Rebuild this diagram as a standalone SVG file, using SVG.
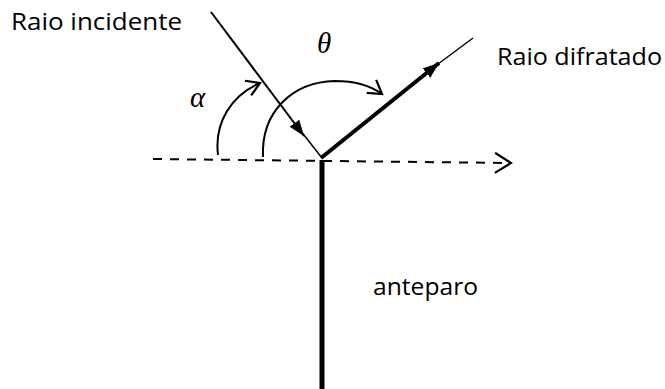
<svg xmlns="http://www.w3.org/2000/svg" width="665" height="389" viewBox="0 0 665 389">
<defs>
<style>
.lbl{font-family:"Open Sans","Liberation Sans",sans-serif;font-size:24.5px;fill:#000}
.math{font-family:"Liberation Serif","DejaVu Serif",serif;font-style:italic;font-size:29px;fill:#000}
.ln{stroke:#000;fill:none;stroke-linecap:butt}
</style>
<marker id="fill" viewBox="0 0 16 12" refX="16" refY="6" markerWidth="16" markerHeight="12" markerUnits="userSpaceOnUse" orient="auto">
<path d="M0,0 L16,6 L0,12 Z" fill="#000"/>
</marker>
<marker id="open" viewBox="0 0 20 22" refX="18" refY="11" markerWidth="20" markerHeight="22" markerUnits="userSpaceOnUse" orient="auto">
<path d="M2,1 L18,11 L2,21" fill="none" stroke="#000" stroke-width="2.2"/>
</marker>
<marker id="openS" viewBox="0 0 20 20" refX="17" refY="10" markerWidth="20" markerHeight="20" markerUnits="userSpaceOnUse" orient="auto">
<path d="M4,2 L17,10 L4,18" fill="none" stroke="#000" stroke-width="2.2"/>
</marker>
</defs>
<rect width="665" height="389" fill="#fff"/>
<g id="connectors">
<path id="dashed-axis" class="ln" d="M153,159 L511,163" stroke-width="2" stroke-dasharray="9,8" marker-end="url(#open)"/>
<path id="incident" class="ln" d="M211,12 L304,136" stroke-width="2" marker-end="url(#fill)"/>
<path id="incident-rest" class="ln" d="M300,130 L322,158" stroke-width="1.5"/>
<path id="diffracted" class="ln" d="M321,158 L439,63" stroke-width="4" marker-end="url(#fill)"/>
<path id="diffracted-rest" class="ln" d="M430,70 L473,38" stroke-width="1.5"/>
<path id="screen" class="ln" d="M322,160 L322,389" stroke-width="5"/>
<path id="alpha-arc" class="ln" d="M218,155 C214,122 232,95 260,83" stroke-width="2" marker-end="url(#openS)"/>
<path id="theta-arc" class="ln" d="M263,157 C261,112 292,82 335,81 C355,81 371,86 382,94" stroke-width="2" marker-end="url(#openS)"/>
</g>
<g id="label-incidente"><text class="lbl" x="11" y="30" textLength="171" lengthAdjust="spacingAndGlyphs">Raio incidente</text></g>
<g id="label-difratado"><text class="lbl" x="497" y="65" textLength="165" lengthAdjust="spacingAndGlyphs">Raio difratado</text></g>
<g id="label-anteparo"><text class="lbl" x="373" y="295" textLength="105" lengthAdjust="spacingAndGlyphs">anteparo</text></g>
<g id="label-alpha"><text class="math" x="190" y="107">α</text></g>
<g id="label-theta"><text class="math" x="317" y="53">θ</text></g>
</svg>
